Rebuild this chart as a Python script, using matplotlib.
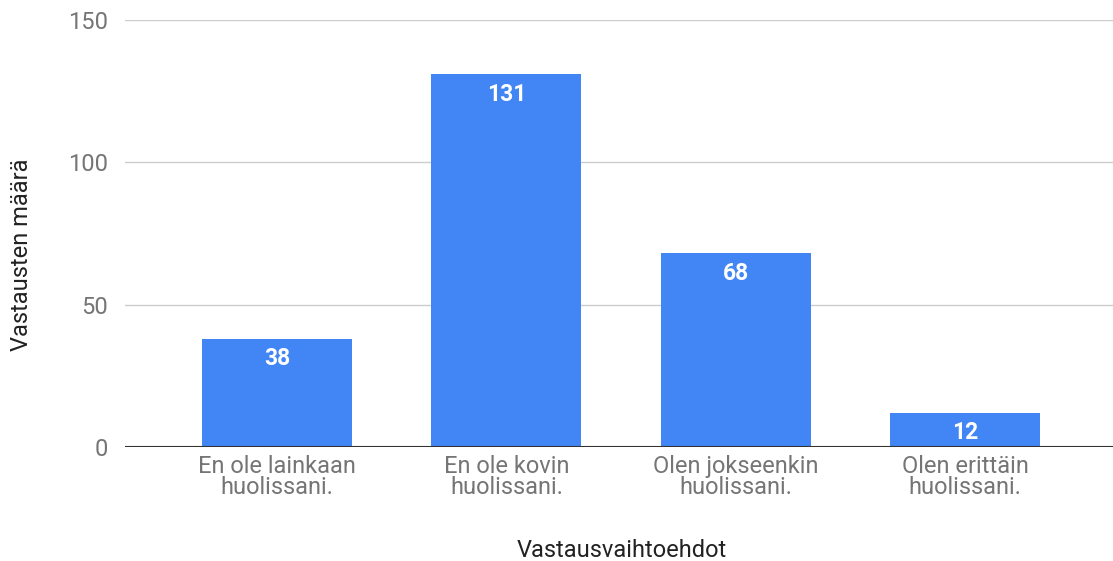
import matplotlib
matplotlib.use("Agg")
import matplotlib.pyplot as plt

plt.rcParams['font.family'] = ['Roboto', 'DejaVu Sans']

categories = ["En ole lainkaan\nhuolissani.", "En ole kovin\nhuolissani.",
              "Olen jokseenkin\nhuolissani.", "Olen erittäin\nhuolissani."]
counts = [38, 131, 68, 12]
yticks = [0, 50, 100, 150]

fig = plt.figure(figsize=(11.13, 5.61), dpi=100)
ax = fig.add_axes([125/1113, 114/561, 988/1113, 427/561])

x = list(range(len(categories)))
bars = ax.bar(x, counts, width=0.654, color="#4285f4", zorder=3)

for b, v in zip(bars, counts):
    ax.annotate(str(v), (b.get_x() + b.get_width()/2, v), xytext=(0, -20),
                textcoords="offset pixels", ha="center", va="center",
                color="white", fontsize=16.5, fontweight="bold", zorder=4)

ax.set_xlim(-0.663, 3.645)
ax.set_ylim(0, 150)
ax.set_yticks(yticks)
ax.set_yticklabels([str(t) for t in yticks])
ax.set_xticks(x)
ax.set_xticklabels(categories, linespacing=0.85)
ax.tick_params(axis="both", length=0, labelsize=17, colors="#757575")
ax.tick_params(axis="y", pad=12)
ax.tick_params(axis="x", pad=6)

for t in yticks[1:]:
    ax.axhline(t, color="#cccccc", lw=1, zorder=1)
ax.axhline(0, color="#333333", lw=1.5, zorder=5)

for s in ax.spines.values():
    s.set_visible(False)

ax.set_xlabel("Vastausvaihtoehdot", fontsize=17, color="#222222")
ax.xaxis.set_label_coords(0.503, -0.216)
ax.set_ylabel("Vastausten määrä", fontsize=17, color="#222222")
ax.yaxis.set_label_coords(-0.093, 0.45)

plt.savefig("out.png", dpi=100)
